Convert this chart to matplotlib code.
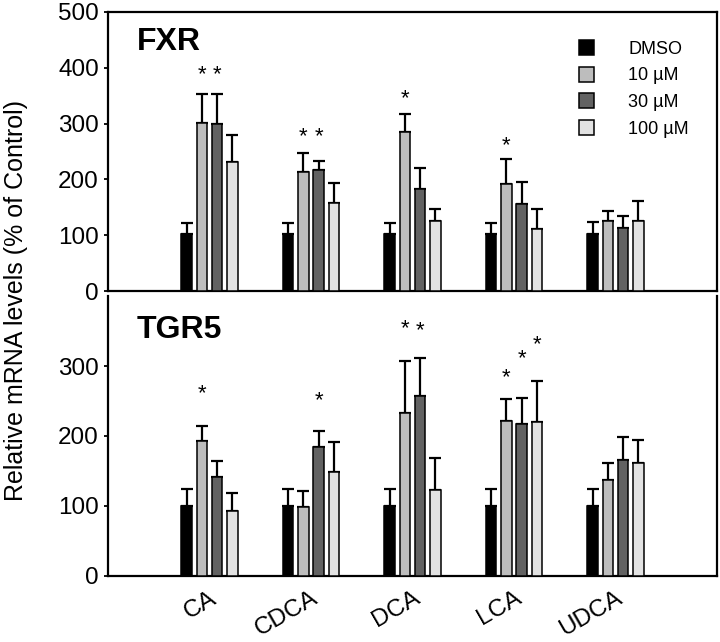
import matplotlib
matplotlib.use("Agg")
import matplotlib.pyplot as plt
import numpy as np

plt.rcParams['font.family'] = ['Liberation Sans', 'DejaVu Sans']

categories = ["CA", "CDCA", "DCA", "LCA", "UDCA"]
series = ["DMSO", "10 \u00b5M", "30 \u00b5M", "100 \u00b5M"]
colors = ["#000000", "#bdbdbd", "#626262", "#e2e2e2"]

# FXR values (mean, upper error) per series, across categories
fxr_mean = [
    [102, 102, 102, 102, 102],
    [301, 213, 285, 192, 125],
    [299, 217, 183, 156, 113],
    [231, 158, 125, 111, 125],
]
fxr_err = [
    [20, 20, 20, 20, 21],
    [52, 34, 32, 44, 18],
    [54, 16, 38, 39, 22],
    [49, 36, 22, 36, 36],
]
# significance stars: (series index, category index, height)
fxr_stars = [(1, 0, 387), (2, 0, 387), (1, 1, 276), (2, 1, 276), (1, 2, 345), (1, 3, 260)]

tgr5_mean = [
    [100, 100, 100, 100, 100],
    [193, 98, 233, 221, 137],
    [141, 184, 257, 217, 166],
    [93, 149, 123, 220, 162],
]
tgr5_err = [
    [24, 24, 24, 24, 24],
    [21, 23, 74, 32, 25],
    [23, 23, 55, 38, 32],
    [25, 43, 45, 59, 33],
]
tgr5_stars = [(1, 0, 261), (2, 1, 250), (1, 2, 354), (2, 2, 351), (1, 3, 283), (2, 3, 311), (3, 3, 331)]

fig = plt.figure(figsize=(7.2, 6.42), dpi=100)
ax1 = fig.add_axes([108/720, 1-291/642, (717-108)/720, (291-12)/642])
ax2 = fig.add_axes([108/720, 1-576/642, (717-108)/720, (576-296)/642])

x = np.arange(len(categories))
width = 0.105
offsets = [-0.225, -0.075, 0.075, 0.225]

def draw(ax, means, errs, stars, ymax, ticks, title, ty):
    for i in range(4):
        ax.bar(x + offsets[i], means[i], width, color=colors[i], edgecolor='black',
               linewidth=1.1, label=series[i], zorder=3)
        ax.errorbar(x + offsets[i], means[i], yerr=[np.zeros(5), errs[i]], fmt='none',
                    ecolor='black', elinewidth=1.6, capsize=4, capthick=1.6, zorder=2)
    for s, c, h in stars:
        ax.text(x[c] + offsets[s], h, "*", ha='center', va='center', fontsize=16)
    ax.set_xlim(-1, 5)
    ax.set_ylim(0, ymax)
    ax.set_yticks(ticks)
    ax.tick_params(axis='y', labelsize=17.5, direction='out', length=3, width=1.3)
    for sp in ax.spines.values():
        sp.set_linewidth(1.6)
    ax.text(0.047, ty, title, transform=ax.transAxes,
            fontsize=23, fontweight='bold', va='center', ha='left')

draw(ax1, fxr_mean, fxr_err, fxr_stars, 500, [0, 100, 200, 300, 400, 500], "FXR", 0.892)
draw(ax2, tgr5_mean, tgr5_err, tgr5_stars, 400, [0, 100, 200, 300], "TGR5", 0.879)

ax1.set_xticks([])
ax2.spines['top'].set_visible(False)
ax2.set_xticks(x)
ax2.set_xticklabels(categories, rotation=30, ha='right', rotation_mode='anchor', fontsize=17.5)
ax2.tick_params(axis='x', length=0, pad=8)

ax1.legend(loc='upper left', bbox_to_anchor=(0.773, 0.90), frameon=False, fontsize=13,
           handlelength=0.85, handleheight=0.9, handletextpad=1.9, labelspacing=0.5,
           borderpad=0, borderaxespad=0)

fig.text(0.022, 1-300/642, "Relative mRNA levels (% of Control)", rotation=90,
         va='center', ha='center', fontsize=18)

fig.savefig("out.png", dpi=100)
